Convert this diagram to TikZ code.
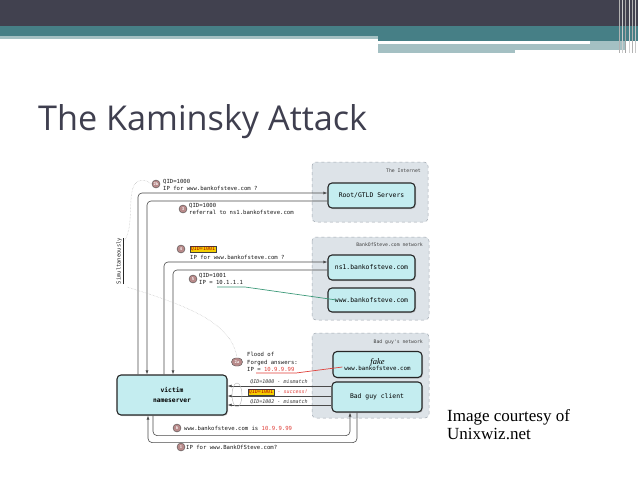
\documentclass[tikz,border=0pt]{standalone}
\usepackage{fontspec}
\usepackage{graphicx}
\setmainfont{Liberation Serif}
\newfontfamily\titlefont{Open Sans}
\newfontfamily\monofont{DejaVu Sans Mono}
\usetikzlibrary{shadows,arrows.meta,calc}
\definecolor{hdrdark}{HTML}{41414F}
\definecolor{hdrteal}{HTML}{467F86}
\definecolor{hdrlight}{HTML}{A4C0C3}
\definecolor{titlecol}{HTML}{3F3F4F}
\definecolor{boxfill}{HTML}{C4EDF0}
\definecolor{netfill}{HTML}{DDE3E8}
\definecolor{netdraw}{HTML}{A0A8B0}
\definecolor{linecol}{HTML}{4A4A4A}
\definecolor{numfill}{HTML}{B88A8A}
\definecolor{qidyellow}{HTML}{F5D000}
\definecolor{redtxt}{HTML}{E0403A}
\definecolor{greenln}{HTML}{3E9A7A}
\tikzset{
  server/.style={draw=black!85, line width=1.1pt, fill=boxfill, rounded corners=4pt,
    drop shadow={shadow xshift=1pt, shadow yshift=-1pt, opacity=0.35},
    font=\monofont\fontsize{6.4}{7.5}\selectfont, align=center, inner sep=1pt, text=black},
  net/.style={draw=netdraw, dashed, fill=netfill, rounded corners=4pt, line width=0.5pt},
  netlbl/.style={font=\monofont\fontsize{4.8}{5.5}\selectfont, anchor=east, inner sep=0pt, text=black!75},
  conn/.style={draw=linecol, line width=0.6pt, rounded corners=4pt},
  arr/.style={conn, -{Latex[length=4pt,width=3pt]}},
  numc/.style={circle, draw=black!70, fill=numfill, inner sep=0pt, minimum size=8pt,
    font=\sffamily\bfseries\fontsize{4.2}{5}\selectfont, text=white},
  lbl/.style={font=\monofont\fontsize{5.6}{7.8}\selectfont, align=left, inner sep=0pt, anchor=west, text=black!90},
  ilbl/.style={font=\monofont\itshape\fontsize{5}{6}\selectfont, inner sep=0pt, text=black!80},
  qid/.style={fill=qidyellow, draw=black!75, line width=0.5pt, inner sep=1pt,
    font=\monofont\fontsize{5}{6}\selectfont, text=red!70!black},
  curvy/.style={draw=gray!55, line width=0.45pt, densely dotted},
}
\begin{document}
\begin{tikzpicture}[x=1pt,y=-1pt]
\useasboundingbox (0,0) rectangle (638,479);
\fill[white] (0,0) rectangle (638,479);
% header
\fill[hdrdark] (0,0) rectangle (638,26);
\fill[hdrteal] (0,26) rectangle (638,36);
\fill[hdrlight] (0,36) rectangle (378,39);
\fill[hdrteal] (378,36) rectangle (638,41);
\fill[hdrlight] (378,44) rectangle (626,50);
\fill[hdrlight] (378,50) rectangle (515,53);
\fill[hdrlight] (590,41) rectangle (626,44);
\foreach \x/\c in {619/gray!60,622/gray!40,625/gray!70,629/gray!35,632/gray!60,635/gray!45}
  \fill[\c] (\x,0) rectangle ++(1.2,53);
% title
\node[anchor=base west, inner sep=0pt, text=titlecol] (title) at (38,130)
  {\resizebox{329pt}{!}{\titlefont\fontsize{33}{40}\selectfont The Kaminsky Attack}};
\node[anchor=north west, inner sep=0pt, align=left, font=\fontsize{17}{18}\selectfont] (credit) at (447,409)
  {Image courtesy of\\Unixwiz.net};

% network regions
\path[net] (312,162) rectangle (428,222);
\path[net] (312,237) rectangle (429,320);
\path[net] (312,333) rectangle (429,418);
\node[netlbl] (lint) at (421,171) {The Internet};
\node[netlbl] (lbos) at (423,245) {BankOfSteve.com network};
\node[netlbl] (lbad) at (423,342) {Bad guy's network};

% servers
\node[server, minimum width=87pt, minimum height=25pt] (root) at (371.5,195.5) {Root/GTLD Servers};
\node[server, minimum width=87pt, minimum height=25pt] (ns1) at (371.5,267.5) {ns1.bankofsteve.com};
\node[server, minimum width=87pt, minimum height=24pt] (www) at (371.5,300) {www.bankofsteve.com};
\node[server, minimum width=89pt, minimum height=26pt, font=\monofont\fontsize{5.8}{7}\selectfont] (fake) at (377.5,364.5)
  {{\rmfamily\itshape\fontsize{8.5}{8}\selectfont fake}\\[-1pt]www.bankofsteve.com};
\node[server, minimum width=90pt, minimum height=30pt] (bad) at (377,397) {Bad guy client};
\node[server, minimum width=110pt, minimum height=40pt, font=\monofont\bfseries\fontsize{6.3}{10}\selectfont] (victim) at (172,395) {victim\\nameserver};

% upper connectors
\draw[arr] ([xshift=-34pt]victim.north) |- ([yshift=2.5pt]root.west);
\draw[arr] ([yshift=-5.5pt]root.west) -| ([xshift=-25pt]victim.north);
\draw[arr] ([xshift=-8pt]victim.north) |- ([yshift=5.5pt]ns1.west);
\draw[arr] ([yshift=-2.5pt]ns1.west) -| ([xshift=1pt]victim.north);

% mismatch lines
\draw[arr] ([yshift=11pt]bad.west) -- ([yshift=11pt]bad.west -| victim.east);
\draw[arr] ([yshift=1pt]bad.west) -- ([yshift=1pt]bad.west -| victim.east);
\draw[arr] ([yshift=-8pt]bad.west) -- ([yshift=-8pt]bad.west -| victim.east);
\draw[gray!60, line width=0.4pt] (237,395) ellipse [x radius=5, y radius=12];
\node[ilbl] (m1) at (279,382) {QID=1000 - mismatch};
\node[qid] (q2) at (261,392) {QID=1001};
\node[ilbl, anchor=west, text=redtxt] (m2) at (q2.east) {\ - success!};
\node[ilbl] (m3) at (279,402) {QID=1002 - mismatch};

% bottom connectors
\draw[arr] ([xshift=-20pt]bad.south) -- ++(0,30) -| ([xshift=-24pt]victim.south);
\draw[arr] ([xshift=-19pt]victim.south) -- ++(0,20) -| ([xshift=-27pt]bad.south);

% step labels
\node[numc] (n2b) at (156,184) {2b};
\node[lbl] (l2b) at (163,185) {QID=1000\\IP for www.bankofsteve.com ?};
\node[numc] (n3) at (183,209) {3};
\node[lbl] (l3) at (189,209) {QID=1000\\referral to ns1.bankofsteve.com};
\node[numc] (n4) at (181,249) {4};
\node[qid] (q4) at (203,249) {QID=1001};
\node[lbl] (l4) at (190,257) {IP for www.bankofsteve.com ?};
\node[numc] (n5) at (193,279) {5};
\node[lbl] (l5) at (199,279) {QID=1001\\IP = 10.1.1.1};
\node[numc, minimum width=11pt, minimum height=8pt, rounded corners=4pt, rectangle] (n2a) at (237,362) {2a};
\node[lbl] (l2a) at (247,362) {Flood of\\Forged answers:\\IP = \textcolor{redtxt}{10.9.9.99}};
\node[numc] (n6) at (177,428) {6};
\node[lbl] (l6) at (184,428) {www.bankofsteve.com is \textcolor{redtxt}{10.9.9.99}};
\node[numc] (n1) at (181,447) {1};
\node[lbl] (l1) at (186,447) {IP for www.BankOfSteve.com?};

% green and red pointer lines
\coordinate (g1) at (217,287);
\coordinate (g2) at (245,287);
\draw[greenln, line width=0.7pt] (g1) -- (g2) -- ([xshift=9pt]www.west);
\coordinate (r1) at (256,373);
\coordinate (r2) at (296,373);
\draw[redtxt, line width=0.7pt] (r1) -- (r2) -- ([xshift=10pt,yshift=-2.5pt]fake.west);

% simultaneously
\node[rotate=90, font=\monofont\fontsize{5.5}{6}\selectfont, inner sep=0pt, text=black!85] (sim) at (120,261) {\underline{Simultaneously}};
\coordinate (s1) at (125,240);
\coordinate (s2) at (127,287);
\draw[curvy] (s1) .. controls (135,222) and (126,190) .. (137,182) .. controls (142,178) and (147,181) .. (n2b.west);
\draw[curvy] (s2) .. controls (185,305) and (232,322) .. (n2a.north);
\end{tikzpicture}
\end{document}
